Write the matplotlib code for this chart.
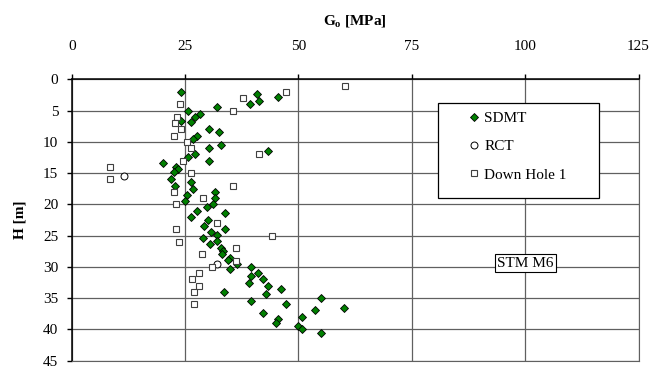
import matplotlib
matplotlib.use("Agg")
import matplotlib.pyplot as plt
from matplotlib.patches import Rectangle

plt.rcParams['font.family'] = ['Liberation Serif', 'DejaVu Serif']
plt.rcParams['mathtext.fontset'] = 'custom'
plt.rcParams['mathtext.rm'] = 'Liberation Serif:bold'

# SDMT: G0 [MPa] vs depth H [m]
sdmt_g0 = [24.0, 40.8, 45.5, 41.4, 39.3, 32.0, 25.6, 28.4, 27.2, 24.0,
           26.3, 30.2, 32.5, 27.6, 26.7, 33.0, 30.3, 43.3, 27.2, 25.6,
           30.3, 20.1, 23.1, 23.4, 22.5, 22.0, 26.3, 22.7, 26.7, 31.6,
           25.5, 31.6, 25.0, 31.2, 29.8, 27.6, 33.9, 26.3, 30.1, 29.2,
           33.9, 30.7, 32.0, 28.9, 32.0, 30.6, 33.0, 33.4, 33.1, 34.9,
           34.5, 36.4, 39.5, 34.9, 41.1, 39.5, 42.2, 39.0, 43.3, 46.1,
           33.5, 42.8, 54.9, 39.5, 47.2, 60.1, 53.7, 42.2, 50.7, 45.5,
           45.0, 50.0, 50.8, 54.9]
sdmt_h = [2.0, 2.4, 2.9, 3.5, 4.0, 4.5, 5.0, 5.5, 6.0, 6.7,
          6.9, 8.0, 8.5, 9.0, 9.5, 10.5, 11.0, 11.4, 12.0, 12.5,
          13.0, 13.4, 14.0, 14.4, 14.9, 15.9, 16.5, 17.0, 17.5, 18.0,
          18.5, 19.0, 19.5, 19.9, 20.5, 21.0, 21.4, 22.0, 22.5, 23.4,
          23.9, 24.4, 24.9, 25.4, 25.9, 26.4, 26.9, 27.5, 27.9, 28.5,
          28.9, 29.5, 30.0, 30.4, 30.9, 31.5, 31.9, 32.5, 33.0, 33.5,
          34.0, 34.4, 34.9, 35.4, 35.9, 36.5, 36.9, 37.4, 38.0, 38.4,
          38.9, 39.4, 40.0, 40.5]

# RCT
rct_g0 = [11.5, 32.0]
rct_h = [15.5, 29.6]

# Down Hole 1
dh_g0 = [60.3, 47.3, 37.7, 23.9, 35.6, 23.3, 22.8, 24.2, 22.6, 25.5,
         26.3, 41.4, 24.5, 8.4, 26.2, 8.4, 35.6, 22.6, 29.0, 23.0,
         32.1, 23.0, 44.1, 23.7, 36.2, 28.7, 36.2, 31.0, 28.1, 26.5,
         28.1, 26.9, 26.9]
dh_h = [1, 2, 3, 4, 5, 6, 7, 8, 9, 10,
        11, 12, 13, 14, 15, 16, 17, 18, 19, 20,
        23, 24, 25, 26, 27, 28, 29, 30, 31, 32,
        33, 34, 36]

x_ticks = [0, 25, 50, 75, 100, 125]
y_ticks = [0, 5, 10, 15, 20, 25, 30, 35, 40, 45]

W, H = 654, 367
fig = plt.figure(figsize=(W / 100, H / 100), dpi=100)
ax = fig.add_axes([71.7 / W, 1 - 360.7 / H, (638.5 - 71.7) / W, (360.7 - 79.3) / H])

ax.plot(sdmt_g0, sdmt_h, linestyle='none', marker='D', ms=3.8, mfc='#008000',
        mec='black', mew=0.6, label='SDMT', zorder=3)
ax.plot(rct_g0, rct_h, linestyle='none', marker='o', ms=5, mfc='white',
        mec='black', mew=0.7, label='RCT', zorder=3)
ax.plot(dh_g0, dh_h, linestyle='none', marker='s', ms=5, mfc='white',
        mec='#404040', mew=0.8, label='Down Hole 1', zorder=3)

ax.set_xlim(0, 125)
ax.set_ylim(45, 0)
ax.set_xticks(x_ticks)
ax.set_yticks(y_ticks)
ax.xaxis.tick_top()
ax.xaxis.set_label_position('top')
ax.grid(True, color='#606060', lw=0.9)
ax.set_axisbelow(True)
for side in ['left', 'top']:
    ax.spines[side].set_color('black')
    ax.spines[side].set_linewidth(1.1)
for side in ['right', 'bottom']:
    ax.spines[side].set_color('#606060')
ax.tick_params(axis='x', direction='out', length=3.6, width=1, labelsize=11, pad=15.5)
ax.tick_params(axis='y', direction='out', length=3.6, width=1, labelsize=11, pad=6)

ax.set_xlabel(r'$\mathrm{G_o}$ [MPa]', fontsize=11, fontweight='bold', labelpad=11)
ax.set_ylabel('H [m]', fontsize=11, fontweight='bold', labelpad=12)

# legend box
ax.add_patch(Rectangle((438.3 / W, 1 - 198 / H), 160.7 / W, 95.3 / H,
                       transform=fig.transFigure, facecolor='white',
                       edgecolor='black', lw=0.9, zorder=4, clip_on=False))
ax.legend(frameon=False, loc='upper left', bbox_to_anchor=(469.6 / W, 1 - 111.5 / H),
          bbox_transform=fig.transFigure, borderpad=0, borderaxespad=0,
          handlelength=0.6, handletextpad=0.35, labelspacing=0.95, fontsize=11)

ax.text(100, 29.4, 'STM M6', ha='center', va='center', fontsize=11, zorder=4,
        bbox=dict(boxstyle='square,pad=0.15', facecolor='white', edgecolor='black', lw=0.8))

fig.savefig('out.png', dpi=100)
